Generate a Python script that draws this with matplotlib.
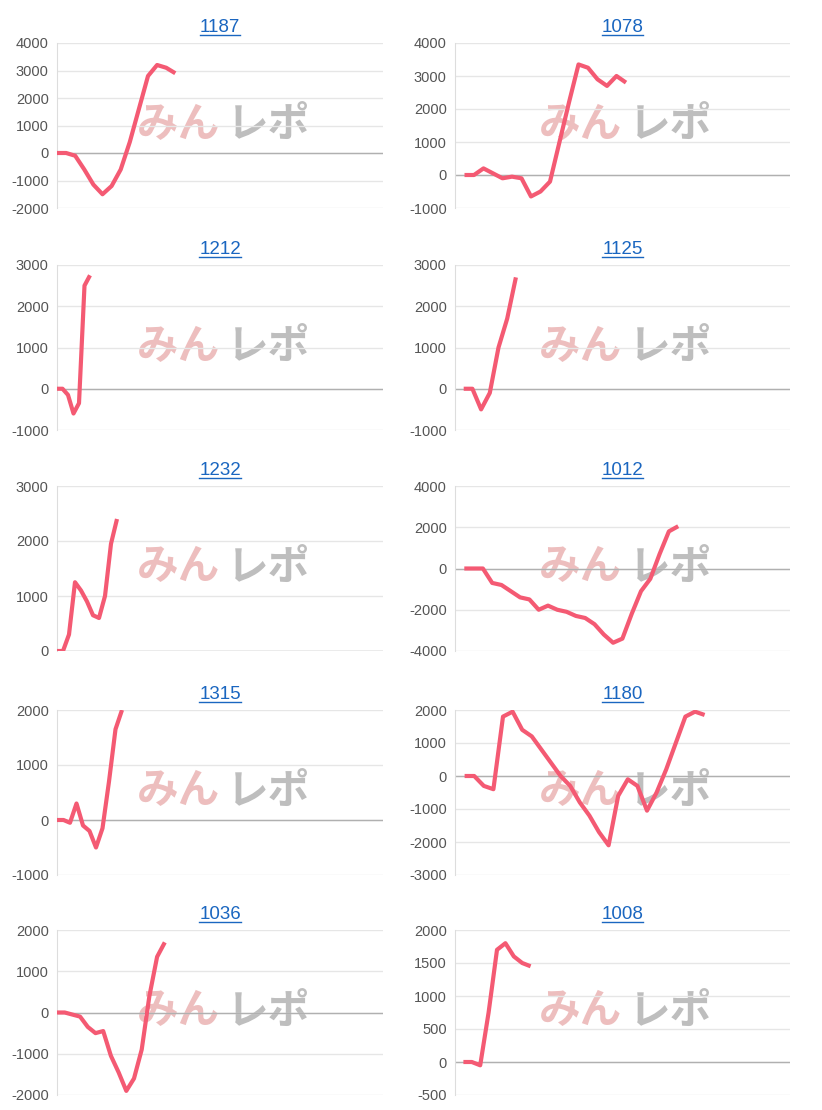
import matplotlib.pyplot as plt
from matplotlib.ticker import MultipleLocator

plt.rcParams['font.family'] = ['Liberation Sans', 'Noto Sans CJK JP', 'DejaVu Sans']
plt.rcParams['axes.unicode_minus'] = False

titles = ['1187', '1078', '1212', '1125', '1232', '1012', '1315', '1180', '1036', '1008']
series = [
    [0, 0, -100, -600, -1150, -1500, -1200, -600, 400, 1600, 2800, 3200, 3100, 2900],
    [0, 0, 200, 50, -100, -50, -100, -650, -500, -200, 1000, 2200, 3350, 3250, 2900, 2700, 3000, 2800],
    [0, 0, -150, -600, -350, 2500, 2750],
    [0, 0, -500, -100, 1000, 1700, 2700],
    [0, 0, 300, 1250, 1100, 900, 650, 600, 1000, 1950, 2400],
    [0, 0, 0, -700, -800, -1100, -1400, -1500, -2000, -1800, -2000, -2100, -2300, -2400,
     -2700, -3200, -3600, -3400, -2200, -1100, -500, 700, 1800, 2050],
    [0, 0, -50, 300, -100, -200, -500, -150, 700, 1650, 2000],
    [0, 0, -300, -400, 1800, 1950, 1400, 1200, 800, 400, 0, -300, -800, -1200, -1700, -2100,
     -600, -100, -300, -1050, -500, 200, 1000, 1800, 1950, 1850],
    [0, 0, -50, -100, -350, -500, -450, -1050, -1450, -1900, -1600, -900, 400, 1350, 1700],
    [0, 0, -50, 750, 1700, 1800, 1600, 1500, 1450],
]
ylims = [(-2000, 4000), (-1000, 4000), (-1000, 3000), (-1000, 3000), (0, 3000),
         (-4000, 4000), (-1000, 2000), (-3000, 2000), (-2000, 2000), (-500, 2000)]
steps = [1000, 1000, 1000, 1000, 1000, 2000, 1000, 1000, 1000, 500]
# pixel spacing between points in each panel
spacing = [9.1, 9.5, 5.5, 8.7, 6.0, 9.3, 6.5, 9.6, 7.7, 8.4]

W, H = 822, 1110
fig = plt.figure(figsize=(W / 100, H / 100), dpi=100)
tops = [43, 265, 486, 710, 930]
lefts = [(57, 383), (455, 790)]
ah = 165

for i, (t, ys) in enumerate(zip(titles, series)):
    r, c = divmod(i, 2)
    x0, x1 = lefts[c]
    ax = fig.add_axes([x0 / W, 1 - (tops[r] + ah) / H, (x1 - x0) / W, ah / H])
    lo, hi = ylims[i]
    ax.set_ylim(lo, hi)
    xmin = -1.0 if c == 1 else 0.0
    ax.set_xlim(xmin, xmin + (x1 - x0) / spacing[i])
    ax.yaxis.set_major_locator(MultipleLocator(steps[i]))
    ax.grid(axis='y', color='#e6e6e6', lw=1)
    ax.axhline(0, color='#b0b0b0', lw=1, zorder=1)
    ax.set_axisbelow(True)
    for s in ['top', 'right', 'bottom']:
        ax.spines[s].set_visible(False)
    ax.spines['left'].set_color('#dddddd')
    ax.set_xticks([])
    ax.tick_params(axis='y', length=0, labelsize=10.5, labelcolor='#555555', pad=6)
    ax.text(0.5, 0.5, 'みん', transform=ax.transAxes, ha='right', va='center',
            fontsize=30, fontweight='bold', style='italic', color='#e8a9a9', alpha=0.75, zorder=0)
    ax.text(0.52, 0.5, 'レポ', transform=ax.transAxes, ha='left', va='center',
            fontsize=30, fontweight='bold', style='italic', color='#a8a8a8', alpha=0.75, zorder=0)
    ax.plot(range(len(ys)), ys, color='#f45a73', lw=3, zorder=3, solid_capstyle='butt')
    ax.set_title(t, color='#1a66c0', fontsize=13.5, pad=8)

# underline titles
fig.canvas.draw()
for ax in fig.axes:
    bb = ax.title.get_window_extent()
    y = bb.y0 + 1
    fig.add_artist(plt.Line2D([bb.x0 / W, bb.x1 / W], [y / H, y / H], color='#1a66c0', lw=1))

fig.savefig('out.png', dpi=100)
